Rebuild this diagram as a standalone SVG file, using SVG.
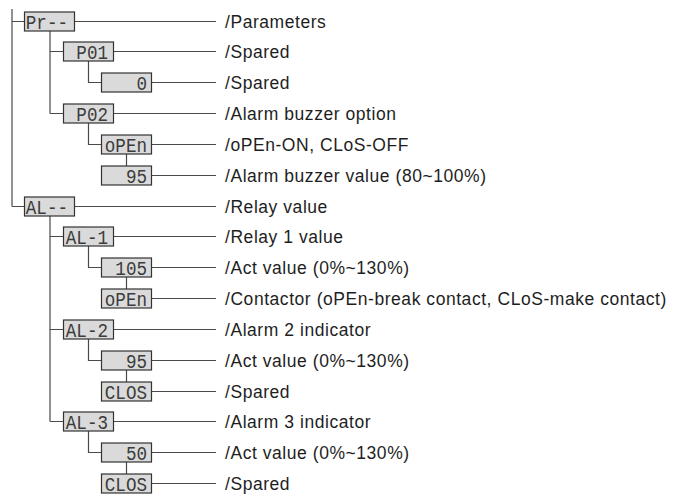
<svg xmlns="http://www.w3.org/2000/svg" width="678" height="496" viewBox="0 0 678 496">
<style>
.bg{fill:#ffffff}
.box{fill:#dadada;stroke:#333333;stroke-width:1.2}
.seg{font-family:"Liberation Mono","DejaVu Sans Mono",monospace;font-size:16px;fill:#3c3c3c;text-anchor:end}
.lbl{font-family:"Liberation Sans",Arial,sans-serif;font-size:17.5px;letter-spacing:0.55px;fill:#1e1e1e}
.ln{fill:none;stroke:#4a4a4a;stroke-width:1.2}
</style>
<rect class="bg" x="0" y="0" width="678" height="496"/>
<g id="connectors">
<path class="ln" d="M12,9 V206.5 M12,21.5 H24.5 M12,206.5 H24.5"/>
<path class="ln" d="M50,31 V113.5 M50,51.5 H63.5 M50,113.5 H63.5"/>
<path class="ln" d="M88.5,61 V82.5 H101.5 M88.5,123 V144.5 H101.5 M126.5,154 V166"/>
<path class="ln" d="M50,216 V421.5 M50,236.5 H63.5 M50,329.5 H63.5 M50,421.5 H63.5"/>
<path class="ln" d="M88.5,246 V267.5 H101.5 M126.5,277 V289"/>
<path class="ln" d="M88.5,339 V360.5 H101.5 M126.5,370 V382"/>
<path class="ln" d="M88.5,431 V452.5 H101.5 M126.5,462 V474"/>
<path class="ln" d="M74.5,21.5 H216 M113.5,51.5 H216 M151.5,82.5 H216 M113.5,113.5 H216 M151.5,144.5 H216 M151.5,175.5 H216 M74.5,206.5 H216 M113.5,236.5 H216 M151.5,267.5 H216 M151.5,298.5 H216 M113.5,329.5 H216 M151.5,360.5 H216 M151.5,391.5 H216 M113.5,421.5 H216 M151.5,452.5 H216 M151.5,483.5 H216"/>
</g>
<g id="n-pr"><rect class="box" x="24.5" y="12" width="50" height="19"/><text class="seg" transform="translate(68,28.5) scale(1.1,1.3)">Pr--</text><text class="lbl" x="225" y="27.5">/Parameters</text></g>
<g id="n-p01"><rect class="box" x="63.5" y="42" width="50" height="19"/><text class="seg" transform="translate(108,58.5) scale(1.1,1.3)">P01</text><text class="lbl" x="225" y="57.5">/Spared</text></g>
<g id="n-0"><rect class="box" x="101.5" y="73" width="50" height="19"/><text class="seg" transform="translate(147,89.5) scale(1.1,1.3)">0</text><text class="lbl" x="225" y="88.5">/Spared</text></g>
<g id="n-p02"><rect class="box" x="63.5" y="104" width="50" height="19"/><text class="seg" transform="translate(108,120.5) scale(1.1,1.3)">P02</text><text class="lbl" x="225" y="119.5">/Alarm buzzer option</text></g>
<g id="n-open1"><rect class="box" x="101.5" y="135" width="50" height="19"/><text class="seg" transform="translate(147,151.5) scale(1.1,1.3)">oPEn</text><text class="lbl" x="225" y="150.5">/oPEn-ON, CLoS-OFF</text></g>
<g id="n-95a"><rect class="box" x="101.5" y="166" width="50" height="19"/><text class="seg" transform="translate(147,182.5) scale(1.1,1.3)">95</text><text class="lbl" x="225" y="181.5">/Alarm buzzer value (80~100%)</text></g>
<g id="n-al"><rect class="box" x="24.5" y="197" width="50" height="19"/><text class="seg" transform="translate(68,213.5) scale(1.1,1.3)">AL--</text><text class="lbl" x="225" y="212.5">/Relay value</text></g>
<g id="n-al1"><rect class="box" x="63.5" y="227" width="50" height="19"/><text class="seg" transform="translate(108,243.5) scale(1.1,1.3)">AL-1</text><text class="lbl" x="225" y="242.5">/Relay 1 value</text></g>
<g id="n-105"><rect class="box" x="101.5" y="258" width="50" height="19"/><text class="seg" transform="translate(147,274.5) scale(1.1,1.3)">105</text><text class="lbl" x="225" y="273.5">/Act value (0%~130%)</text></g>
<g id="n-open2"><rect class="box" x="101.5" y="289" width="50" height="19"/><text class="seg" transform="translate(147,305.5) scale(1.1,1.3)">oPEn</text><text class="lbl" x="225" y="304.5">/Contactor (oPEn-break contact, CLoS-make contact)</text></g>
<g id="n-al2"><rect class="box" x="63.5" y="320" width="50" height="19"/><text class="seg" transform="translate(108,336.5) scale(1.1,1.3)">AL-2</text><text class="lbl" x="225" y="335.5">/Alarm 2 indicator</text></g>
<g id="n-95b"><rect class="box" x="101.5" y="351" width="50" height="19"/><text class="seg" transform="translate(147,367.5) scale(1.1,1.3)">95</text><text class="lbl" x="225" y="366.5">/Act value (0%~130%)</text></g>
<g id="n-clos1"><rect class="box" x="101.5" y="382" width="50" height="19"/><text class="seg" transform="translate(147,398.5) scale(1.1,1.3)">CLOS</text><text class="lbl" x="225" y="397.5">/Spared</text></g>
<g id="n-al3"><rect class="box" x="63.5" y="412" width="50" height="19"/><text class="seg" transform="translate(108,428.5) scale(1.1,1.3)">AL-3</text><text class="lbl" x="225" y="427.5">/Alarm 3 indicator</text></g>
<g id="n-50"><rect class="box" x="101.5" y="443" width="50" height="19"/><text class="seg" transform="translate(147,459.5) scale(1.1,1.3)">50</text><text class="lbl" x="225" y="458.5">/Act value (0%~130%)</text></g>
<g id="n-clos2"><rect class="box" x="101.5" y="474" width="50" height="19"/><text class="seg" transform="translate(147,490.5) scale(1.1,1.3)">CLOS</text><text class="lbl" x="225" y="489.5">/Spared</text></g>
</svg>
